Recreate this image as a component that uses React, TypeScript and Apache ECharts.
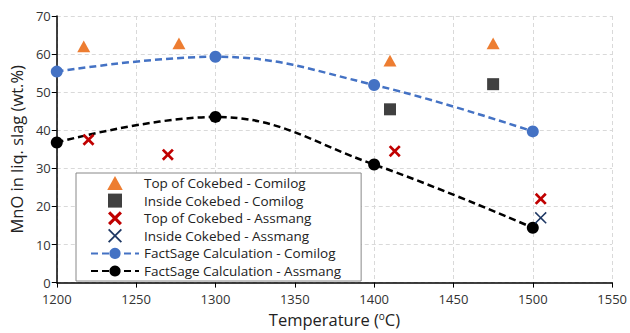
import React, { useEffect, useRef } from "react";
import * as echarts from "echarts";

const topComilog: [number, number][] = [[1217, 62], [1277, 62.8], [1410, 58.3], [1475, 62.8]];
const insideComilog: [number, number][] = [[1410, 45.5], [1475, 52.1]];
const topAssmang: [number, number][] = [[1220, 37.5], [1270, 33.6], [1413, 34.5], [1505, 22.0]];
const insideAssmang: [number, number][] = [[1505, 17.0]];
const calcTemps = [1200, 1300, 1400, 1500];
const calcComilog = [55.4, 59.3, 51.9, 39.7];
const calcAssmang = [36.8, 43.5, 31.0, 14.4];

const seriesNames = [
  "Top of Cokebed - Comilog",
  "Inside Cokebed - Comilog",
  "Top of Cokebed - Assmang",
  "Inside Cokebed - Assmang",
  "FactSage Calculation - Comilog",
  "FactSage Calculation - Assmang",
];

const TRIANGLE = "path://M5,0 L10,9 L0,9 Z";
const SQUARE = "path://M0,0 L10,0 L10,10 L0,10 Z";
const THICK_X =
  "path://M0,1.6 L1.6,0 L5,3.4 L8.4,0 L10,1.6 L6.6,5 L10,8.4 L8.4,10 L5,6.6 L1.6,10 L0,8.4 L3.4,5 Z";
const THIN_X =
  "path://M0,0.9 L0.9,0 L5,4.1 L9.1,0 L10,0.9 L5.9,5 L10,9.1 L9.1,10 L5,5.9 L0.9,10 L0,9.1 L4.1,5 Z";

const FONT = "Open Sans";

export default function App() {
  const ref = useRef<HTMLDivElement>(null);
  useEffect(() => {
    if (!ref.current) return;
    const chart = echarts.init(ref.current, undefined, { renderer: "svg" });
    const pair = (xs: number[], ys: number[]) => xs.map((x, i) => [x, ys[i]]);
    chart.setOption({
      animation: false,
      textStyle: { fontFamily: FONT },
      grid: { left: 54.5, right: 16, top: 16, bottom: 49.7 },
      xAxis: {
        type: "value",
        min: 1200,
        max: 1550,
        interval: 50,
        name: "Temperature ({sup|o}C)",
        nameLocation: "middle",
        nameGap: 26,
        nameTextStyle: {
          fontSize: 16.5,
          color: "#222",
          fontFamily: FONT,
          rich: { sup: { fontSize: 10, verticalAlign: "top", padding: [0, 0, 8, 0], color: "#222", fontFamily: FONT } },
        },
        axisLine: { lineStyle: { color: "#000", width: 1.5 } },
        axisTick: { show: true, length: 5, lineStyle: { color: "#000" } },
        axisLabel: {
          fontSize: 13,
          lineHeight: 13,
          color: "#333",
          margin: 10,
          fontFamily: FONT,
          formatter: (v: number) => String(v),
        },
        splitLine: { show: true, lineStyle: { type: [4, 3], color: "#d9d9d9", width: 1 } },
      },
      yAxis: {
        type: "value",
        min: 0,
        max: 70,
        interval: 10,
        name: "MnO in liq. slag (wt.%)",
        nameLocation: "middle",
        nameGap: 28,
        nameTextStyle: { fontSize: 16.5, color: "#222", fontFamily: FONT },
        axisLine: { show: true, lineStyle: { color: "#000", width: 1.5 } },
        axisTick: { show: true, length: 5, lineStyle: { color: "#000" } },
        axisLabel: { fontSize: 13, lineHeight: 13, color: "#333", margin: 6, fontFamily: FONT },
        splitLine: { show: true, lineStyle: { type: [4, 3], color: "#d9d9d9", width: 1 } },
      },
      legend: {
        orient: "vertical",
        left: 76,
        top: 173,
        data: seriesNames,
        backgroundColor: "#fff",
        borderColor: "#888",
        borderWidth: 1,
        borderRadius: 0,
        padding: [3, 20, 3, 14],
        itemWidth: 48,
        itemHeight: 14,
        itemGap: 3.6,
        symbolKeepAspect: true,
        textStyle: { fontSize: 13.5, color: "#222", fontFamily: FONT, lineHeight: 14 },
      },
      series: [
        {
          name: seriesNames[4],
          type: "line",
          data: pair(calcTemps, calcComilog),
          smooth: 0.4,
          symbol: "circle",
          symbolSize: 12,
          itemStyle: { color: "#4472C4", opacity: 1 },
          lineStyle: { color: "#4472C4", width: 2.5, type: [7, 4] },
          z: 2,
        },
        {
          name: seriesNames[5],
          type: "line",
          data: pair(calcTemps, calcAssmang),
          smooth: 0.4,
          symbol: "circle",
          symbolSize: 12,
          itemStyle: { color: "#000", opacity: 1 },
          lineStyle: { color: "#000", width: 2.5, type: [7, 4] },
          z: 2,
        },
        {
          name: seriesNames[0],
          type: "scatter",
          data: topComilog,
          symbol: TRIANGLE,
          symbolSize: 13,
          symbolKeepAspect: true,
          itemStyle: { color: "#ED7D31", opacity: 1 },
          z: 3,
        },
        {
          name: seriesNames[1],
          type: "scatter",
          data: insideComilog,
          symbol: SQUARE,
          symbolSize: 12,
          symbolKeepAspect: true,
          itemStyle: { color: "#404040", opacity: 1 },
          z: 3,
        },
        {
          name: seriesNames[2],
          type: "scatter",
          data: topAssmang,
          symbol: THICK_X,
          symbolSize: 12,
          symbolKeepAspect: true,
          itemStyle: { color: "#C00000", opacity: 1 },
          z: 3,
        },
        {
          name: seriesNames[3],
          type: "scatter",
          data: insideAssmang,
          symbol: THIN_X,
          symbolSize: 12,
          symbolKeepAspect: true,
          itemStyle: { color: "#1F3864", opacity: 1 },
          z: 3,
        },
      ],
    });
    return () => chart.dispose();
  }, []);
  return <div ref={ref} style={{ width: 630, height: 333, position: "absolute", left: 0, top: 0 }} />;
}
